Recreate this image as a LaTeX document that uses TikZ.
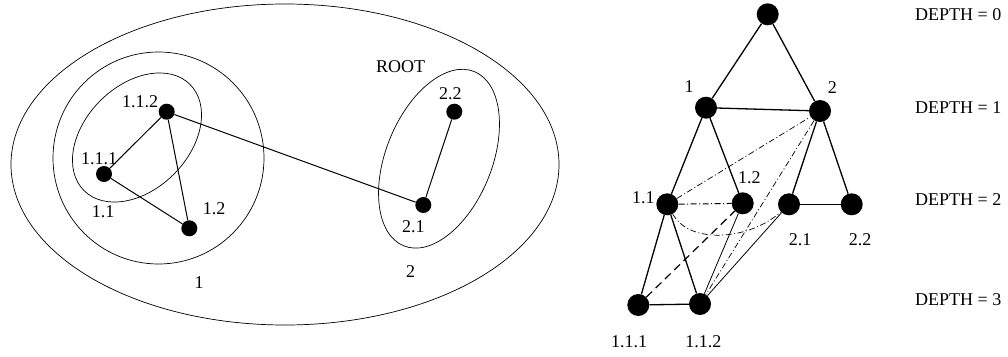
\documentclass[tikz,border=0pt]{standalone}
\usepackage{fontspec}
\setmainfont{Liberation Serif}
\begin{document}
\begin{tikzpicture}[x=1pt,y=-1pt,
  lnode/.style={circle,fill=black,inner sep=0pt,minimum size=16pt},
  rnode/.style={circle,fill=black,inner sep=0pt,minimum size=22pt},
  lbl/.style={inner sep=0pt,font=\fontsize{18}{21}\selectfont},
  ell/.style={line width=0.7pt},
  ledge/.style={line width=1pt},
  redge/.style={line width=1.3pt},
  thinedge/.style={line width=0.8pt},
  dashdot/.style={line width=0.7pt,dash pattern=on 6pt off 2.5pt on 1pt off 2.5pt},
  longdash/.style={line width=1.2pt,dash pattern=on 8pt off 5pt}]
\useasboundingbox (0,0) rectangle (1008,356);
% ---------- left: nested sets ----------
\draw[ell] (285,164.5) ellipse [x radius=274, y radius=160.5];
\draw[ell] (158.5,158) ellipse [x radius=105.5, y radius=106];
\draw[ell] (137,137.5) ellipse [x radius=75, y radius=52, rotate=45];
\draw[ell] (439,158.7) ellipse [x radius=94, y radius=53, rotate=68];
\node[lnode] (a112) at (166.7,111.7) {};
\node[lnode] (a111) at (104,174) {};
\node[lnode] (a12) at (189.3,228.3) {};
\node[lnode] (a22) at (454.3,111.7) {};
\node[lnode] (a21) at (423.3,205) {};
\draw[ledge] (a112) -- (a111);
\draw[ledge] (a112) -- (a12);
\draw[ledge] (a111) -- (a12);
\draw[ledge] (a112) -- (a21);
\draw[ledge] (a21) -- (a22);
\node[lbl] (la112) at (140,101.7) {1.1.2};
\node[lbl] (la111) at (99,158.3) {1.1.1};
\node[lbl] (la11) at (103,211.7) {1.1};
\node[lbl] (la12) at (214,208.3) {1.2};
\node[lbl] (lroot) at (400.5,66.7) {ROOT};
\node[lbl] (la22) at (450.3,94) {2.2};
\node[lbl] (la21) at (413.3,226.7) {2.1};
\node[lbl] (la2) at (410.7,271.7) {2};
\node[lbl] (la1) at (199,282.7) {1};
% ---------- right: hierarchy ----------
\node[rnode] (r) at (767.7,14.3) {};
\node[rnode] (r1) at (706,107.7) {};
\node[rnode] (r2) at (820,111) {};
\node[rnode] (r11) at (667.3,204.3) {};
\node[rnode] (r12) at (742.7,203.3) {};
\node[rnode] (r21) at (789,204.3) {};
\node[rnode] (r22) at (851.7,204.3) {};
\node[rnode] (r111) at (638.3,305) {};
\node[rnode] (r112) at (700,304) {};
\draw[redge] (r) -- (r1);
\draw[redge] (r) -- (r2);
\draw[redge] (r1) -- (r2);
\draw[redge] (r1) -- (r11);
\draw[redge] (r1) -- (r12);
\draw[redge] (r2) -- (r21);
\draw[redge] (r2) -- (r22);
\draw[redge] (r21) -- (r22);
\draw[redge] (r11) -- (r111);
\draw[redge] (r11) -- (r112);
\draw[redge] (r111) -- (r112);
\draw[thinedge] (r12) -- (r112);
\draw[thinedge] (r21) -- (r112);
\draw[dashdot] (r11) -- (r2);
\draw[dashdot,line width=1pt] (r11) -- (r12);
\draw[dashdot] (r11) .. controls (690,245) and (750,240) .. (r21);
\draw[dashdot] (r2) -- (r112);
\draw[longdash] (r111) -- (r12);
\node[lbl] (l1) at (689,86.7) {1};
\node[lbl] (l2) at (832.3,87.7) {2};
\node[lbl] (l11) at (643.3,197.3) {1.1};
\node[lbl] (l12) at (749.3,177.7) {1.2};
\node[lbl] (l21) at (800,239.3) {2.1};
\node[lbl] (l22) at (860,239.3) {2.2};
\node[lbl] (l111) at (629,341.7) {1.1.1};
\node[lbl] (l112) at (703.3,341.7) {1.1.2};
\node[lbl,anchor=west] (d0) at (915,14.3) {DEPTH = 0};
\node[lbl,anchor=west] (d1) at (915,107.7) {DEPTH = 1};
\node[lbl,anchor=west] (d2) at (915,200) {DEPTH = 2};
\node[lbl,anchor=west] (d3) at (915,300) {DEPTH = 3};
\end{tikzpicture}
\end{document}
